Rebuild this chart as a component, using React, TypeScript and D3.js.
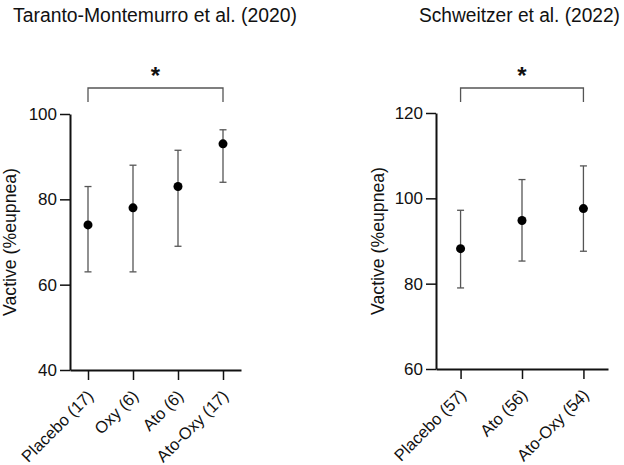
import { useEffect, useRef } from "react"
import * as d3 from "d3"

const leftTitle = "Taranto-Montemurro et al. (2020)"
const leftGroups = ["Placebo (17)", "Oxy (6)", "Ato (6)", "Ato-Oxy (17)"]
const leftMeans = [74, 78, 83, 93]
const leftLow = [63, 63, 69, 84]
const leftHigh = [83, 88, 91.5, 96.3]
const leftTicks = [40, 60, 80, 100]

const rightTitle = "Schweitzer et al. (2022)"
const rightGroups = ["Placebo (57)", "Ato (56)", "Ato-Oxy (54)"]
const rightMeans = [88.2, 94.8, 97.6]
const rightLow = [79, 85.3, 87.6]
const rightHigh = [97.2, 104.4, 107.6]
const rightTicks = [60, 80, 100, 120]

const yLabel = "Vactive (%eupnea)"
const FONT = "'Liberation Sans', Arial, sans-serif"

interface Panel {
  title: string
  titleX: number
  titleW: number
  groups: string[]
  means: number[]
  low: number[]
  high: number[]
  ticks: number[]
  x0: number
  x1: number
  yBottom: number
  yTop: number
  labelX: number
}

export default function App() {
  const ref = useRef<SVGSVGElement | null>(null)

  useEffect(() => {
    const svg = d3.select(ref.current)
    svg.selectAll("*").remove()

    const panels: Panel[] = [
      {
        title: leftTitle, titleX: 13, titleW: 284,
        groups: leftGroups, means: leftMeans, low: leftLow, high: leftHigh, ticks: leftTicks,
        x0: 70, x1: 241, yBottom: 370, yTop: 114, labelX: 16,
      },
      {
        title: rightTitle, titleX: 419, titleW: 201,
        groups: rightGroups, means: rightMeans, low: rightLow, high: rightHigh, ticks: rightTicks,
        x0: 436, x1: 608, yBottom: 369, yTop: 113, labelX: 384,
      },
    ]

    panels.forEach(p => {
      const g = svg.append("g")

      const x = d3.scalePoint<string>()
        .domain(p.groups)
        .range([p.x0, p.x1])
        .padding(0.4)

      const y = d3.scaleLinear()
        .domain([p.ticks[0], p.ticks[p.ticks.length - 1]])
        .range([p.yBottom, p.yTop])

      // title
      g.append("text")
        .attr("x", p.titleX)
        .attr("y", 22)
        .attr("font-family", FONT)
        .attr("font-size", 19.5)
        .attr("textLength", p.titleW)
        .attr("lengthAdjust", "spacingAndGlyphs")
        .attr("fill", "#111")
        .text(p.title)

      // y axis
      const ya = g.append("g")
        .attr("transform", `translate(${p.x0},0)`)
        .call(d3.axisLeft(y).tickValues(p.ticks).tickSize(10).tickPadding(3).tickSizeOuter(0))
      ya.select(".domain").attr("stroke", "#111").attr("stroke-width", 2)
      ya.selectAll(".tick line").attr("stroke", "#111").attr("stroke-width", 1.5)
      ya.selectAll(".tick text")
        .attr("font-family", FONT)
        .attr("font-size", 17)
        .attr("fill", "#111")

      // x axis
      const xa = g.append("g")
        .attr("transform", `translate(0,${p.yBottom})`)
        .call(d3.axisBottom(x).tickSize(10).tickSizeOuter(0))
      xa.select(".domain").attr("stroke", "#111").attr("stroke-width", 2)
      xa.selectAll(".tick line").attr("stroke", "#111").attr("stroke-width", 1.5)
      xa.selectAll(".tick text")
        .attr("font-family", FONT)
        .attr("font-size", 16.5)
        .attr("fill", "#111")
        .attr("text-anchor", "end")
        .attr("y", 0)
        .attr("dy", 0)
        .attr("transform", "translate(6,27) rotate(-45)")

      // y label
      g.append("text")
        .attr("transform", `translate(${p.labelX},${(p.yBottom + p.yTop) / 2}) rotate(-90)`)
        .attr("text-anchor", "middle")
        .attr("font-family", FONT)
        .attr("font-size", 18)
        .attr("textLength", 148)
        .attr("lengthAdjust", "spacingAndGlyphs")
        .attr("fill", "#111")
        .text(yLabel)

      // error bars
      const capW = 3.5
      const bars = g.append("g").attr("stroke", "#555").attr("stroke-width", 1.3)
      p.groups.forEach((grp, i) => {
        const cx = x(grp)!
        bars.append("line").attr("x1", cx).attr("x2", cx).attr("y1", y(p.low[i])).attr("y2", y(p.high[i]))
        bars.append("line").attr("x1", cx - capW).attr("x2", cx + capW).attr("y1", y(p.low[i])).attr("y2", y(p.low[i]))
        bars.append("line").attr("x1", cx - capW).attr("x2", cx + capW).attr("y1", y(p.high[i])).attr("y2", y(p.high[i]))
      })

      // means
      g.selectAll("circle.mean")
        .data(p.groups)
        .enter()
        .append("circle")
        .attr("cx", d => x(d)!)
        .attr("cy", (_d, i) => y(p.means[i]))
        .attr("r", 4.5)
        .attr("fill", "#000")

      // significance bracket
      const bx0 = x(p.groups[0])!
      const bx1 = x(p.groups[p.groups.length - 1])!
      g.append("path")
        .attr("d", `M${bx0},102V88H${bx1}V102`)
        .attr("fill", "none")
        .attr("stroke", "#555")
        .attr("stroke-width", 1.3)
      g.append("text")
        .attr("x", (bx0 + bx1) / 2)
        .attr("y", 84)
        .attr("text-anchor", "middle")
        .attr("font-family", FONT)
        .attr("font-size", 24)
        .attr("font-weight", "bold")
        .attr("fill", "#111")
        .text("*")
    })
  }, [])

  return (
    <svg
      ref={ref}
      width={624}
      height={465}
      style={{ position: "absolute", left: 0, top: 0, background: "#fff" }}
    />
  )
}
